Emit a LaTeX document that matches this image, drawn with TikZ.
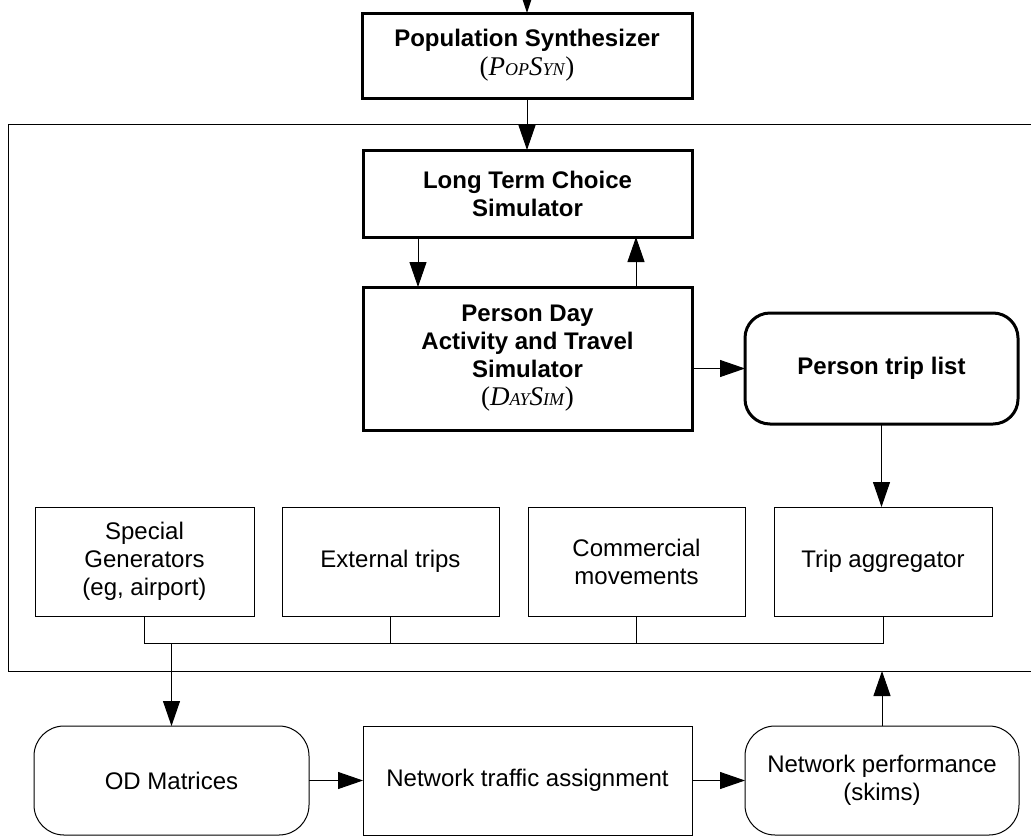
\documentclass[tikz,border=0pt]{standalone}
\usepackage{fontspec}
\setmainfont{Liberation Sans}
\newfontfamily\serifit{Liberation Serif}
\usetikzlibrary{arrows.meta}
\newcommand{\bigit}[1]{{\fontsize{27}{27}\selectfont #1}}
\newcommand{\smallit}[1]{{\fontsize{18}{18}\selectfont #1}}
\tikzset{
  thickbox/.style={draw, line width=3pt, align=center, inner sep=0pt, outer sep=0pt,
    font=\bfseries\fontsize{24}{28}\selectfont},
  thinbox/.style={draw, line width=1pt, align=center, inner sep=0pt, outer sep=0pt,
    font=\fontsize{24}{28}\selectfont},
  arr/.style={-{Triangle[width=17pt,length=25pt]}, line width=1pt},
  conn/.style={line width=1pt}
}
\begin{document}
\begin{tikzpicture}[x=1pt,y=-1pt]
\clip (0,0) rectangle (1031,836);
\fill[white] (0,0) rectangle (1031,836);
% outer frame
\draw[line width=1pt] (8,124) rectangle (1045,671);
% top boxes
\node[thickbox, minimum width=330, minimum height=85] (pop) at (527,55.5)
  {Population Synthesizer\\[1pt]{\mdseries\serifit\bigit{(}\textit{\bigit{P}\smallit{OP}\bigit{S}\smallit{YN}}\bigit{)}}};
\node[thickbox, minimum width=329, minimum height=87] (ltc) at (527.5,193.5)
  {Long Term Choice\\Simulator};
\node[thickbox, minimum width=329, minimum height=143] (pd) at (527.5,358.5)
  {Person Day\\Activity and Travel\\Simulator\\{\mdseries\serifit\bigit{(}\textit{\bigit{D}\smallit{AY}\bigit{S}\smallit{IM}}\bigit{)}}};
\node[thickbox, rounded corners=25pt, minimum width=273, minimum height=111] (ptl) at (881.5,368.5)
  {Person trip list};
% lower row inside frame
\node[thinbox, minimum width=219, minimum height=109] (sg) at (144.5,561.5)
  {Special\\Generators\\(eg, airport)};
\node[thinbox, minimum width=217, minimum height=109] (ex) at (390.5,561.5)
  {External trips};
\node[thinbox, minimum width=217, minimum height=109] (cm) at (636.5,561.5)
  {Commercial\\movements};
\node[thinbox, minimum width=218, minimum height=109] (ta) at (883,561.5)
  {Trip aggregator};
% bottom row
\node[thinbox, rounded corners=30pt, minimum width=275, minimum height=109] (od) at (171.5,780.5)
  {OD Matrices};
\node[thinbox, minimum width=329, minimum height=109] (nta) at (527.5,780.5)
  {Network traffic assignment};
\node[thinbox, rounded corners=30pt, minimum width=274, minimum height=109] (np) at (882,780.5)
  {Network performance\\(skims)};
% helper coordinates
\coordinate (topin) at (527,-40);
\coordinate (ax1) at (418,0);
\coordinate (ax2) at (636,0);
\coordinate (bus) at (0,643);
\coordinate (fb) at (0,671);
% connectors
\draw[-{Triangle[width=9pt,length=14pt]}, line width=1pt] (topin) -- (pop.north);
\draw[arr] (pop.south) -- (pop.south |- ltc.north);
\draw[arr] (ltc.south -| ax1) -- (pd.north -| ax1);
\draw[arr] (pd.north -| ax2) -- (ltc.south -| ax2);
\draw[arr] (pd.east |- ptl.west) -- (ptl.west);
\draw[arr] (ptl.south) -- (ptl.south |- ta.north);
\draw[conn] (sg.south) -- (sg.south |- bus) -- (ta.south |- bus) -- (ta.south);
\draw[conn] (ex.south) -- (ex.south |- bus);
\draw[conn] (cm.south) -- (cm.south |- bus);
\draw[arr] (od.north |- bus) -- (od.north);
\draw[arr] (od.east) -- (nta.west);
\draw[arr] (nta.east) -- (np.west);
\draw[arr] (np.north) -- (np.north |- fb);
\end{tikzpicture}
\end{document}
